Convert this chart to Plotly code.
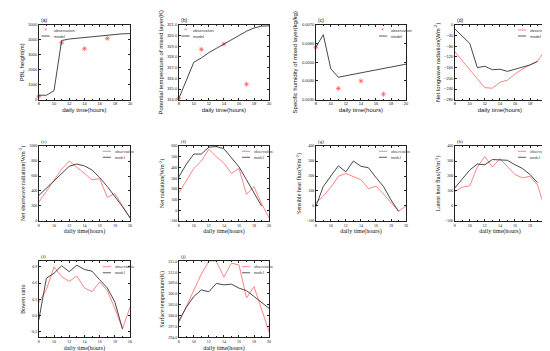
import plotly.graph_objects as go

W, H = 550, 351

hours = list(range(8, 21))
hours_to19 = list(range(8, 20))
obs_hours_sparse = [8, 11, 14, 17]

# (a) PBL height
pbl_model = [300, 300, 600, 3950, 4050, 4100, 4170, 4230, 4280, 4330, 4380, 4400, 4410]
pbl_obs = [220, 3800, 3400, 4090]
# (b) potential temperature of mixed layer
theta_model = [314.1, 315.8, 317.5, 317.9, 318.4, 318.8, 319.2, 319.6, 320.0, 320.4, 320.7, 320.88, 320.9]
theta_obs = [314.1, 318.7, 319.2, 315.45]
# (c) specific humidity of mixed layer
q_model = [0.0058, 0.00647, 0.00465, 0.0042, 0.00428, 0.00436, 0.00444, 0.0045, 0.00457, 0.00465, 0.00472, 0.0048, 0.0049]
q_obs = [0.0058, 0.0036, 0.0040, 0.0033]
# (d) net longwave radiation
lw_model = [-15, -42, -70, -160, -155, -168, -166, -174, -166, -160, -150, -137]
lw_obs = [-100, -135, -168, -202, -235, -237, -215, -207, -184, -165, -150, -136, -96]
# (e) net shortwave radiation
sw_model = [340, 440, 540, 640, 730, 760, 735, 680, 580, 460, 330, 190, 40]
sw_obs = [250, 400, 540, 690, 800, 720, 640, 550, 565, 315, 365, 200, 40]
# (f) net radiation
rn_model = [310, 430, 525, 525, 590, 595, 575, 495, 405, 285, 160, 40]
rn_obs = [160, 280, 390, 460, 570, 500, 440, 345, 390, 150, 220, 60, -70]
# (g) sensible heat flux
sh_model = [-5, 130, 200, 268, 228, 300, 265, 255, 190, 130, 40, -35]
sh_obs = [20, 65, 125, 198, 217, 195, 175, 115, 133, 80, 20, -35, 0]
# (h) latent heat flux
lh_model = [120, 180, 240, 280, 275, 310, 305, 305, 275, 250, 210, 155]
lh_obs = [95, 125, 135, 260, 330, 260, 315, 265, 210, 188, 198, 140, -22]
# (i) Bowen ratio
bowen_model = [-0.08, 0.69, 0.78, 0.92, 0.81, 0.93, 0.85, 0.82, 0.66, 0.51, 0.25, -0.25]
bowen_obs = [0.24, 0.48, 0.9, 0.72, 0.63, 0.73, 0.51, 0.44, 0.62, 0.46, 0.13, -0.24, 0.16]
# (j) surface temperature
ts_model = [298.5, 302.3, 305.3, 307.1, 306.6, 308.9, 308.5, 308.7, 307.6, 306.9, 305.3, 303.7, 302.0]
ts_obs = [298.0, 302.5, 307.0, 311.5, 315.0, 315.0, 310.7, 314.5, 314.0, 304.9, 308.0, 302.0, 295.5]

x_ticks = [8, 10, 12, 14, 16, 18, 20]

OBS_C = "#ff6464"
MOD_C = "#333333"

cols_x = [(30, 122), (171, 262), (309, 400), (449, 540)]
rows_y = [(14, 90), (137, 213), (254, 331)]

panels = [
    dict(lab="(a)", yt="PBL height(m)", x_obs=obs_hours_sparse, obs=pbl_obs, x_mod=hours, mod=pbl_model,
         rng=[0, 5000], tv=[0, 1000, 2000, 3000, 4000, 5000], fmt="d", r=0, c=0, markers=True, leg="left"),
    dict(lab="(b)", yt="Potential temperature of mixed layer(K)", x_obs=obs_hours_sparse, obs=theta_obs, x_mod=hours, mod=theta_model,
         rng=[314, 321], tv=[314, 315, 316, 317, 318, 319, 320, 321], fmt=".1f", r=0, c=1, markers=True, leg="left"),
    dict(lab="(c)", yt="Specific humidity of mixed layer(kg/kg)", x_obs=obs_hours_sparse, obs=q_obs, x_mod=hours, mod=q_model,
         rng=[0.003, 0.007], tv=[0.003, 0.004, 0.005, 0.006, 0.007], fmt=".4f", r=0, c=2, markers=True, leg="right"),
    dict(lab="(d)", yt="Net longwave radiation(Wm<sup>-2</sup>)", x_obs=hours, obs=lw_obs, x_mod=hours_to19, mod=lw_model,
         rng=[-280, 0], tv=[0, -40, -80, -120, -160, -200, -240, -280], fmt="d", r=0, c=3, markers=False, leg="right"),
    dict(lab="(e)", yt="Net shortwave radiation(Wm<sup>-2</sup>)", x_obs=hours, obs=sw_obs, x_mod=hours, mod=sw_model,
         rng=[0, 1000], tv=[0, 200, 400, 600, 800, 1000], fmt="d", r=1, c=0, markers=False, leg="right"),
    dict(lab="(f)", yt="Net radiation(Wm<sup>-2</sup>)", x_obs=hours, obs=rn_obs, x_mod=hours_to19, mod=rn_model,
         rng=[-100, 600], tv=[-100, 0, 100, 200, 300, 400, 500, 600], fmt="d", r=1, c=1, markers=False, leg="right"),
    dict(lab="(g)", yt="Sensible heat flux(Wm<sup>-2</sup>)", x_obs=hours, obs=sh_obs, x_mod=hours_to19, mod=sh_model,
         rng=[-100, 400], tv=[-100, 0, 100, 200, 300, 400], fmt="d", r=1, c=2, markers=False, leg="right"),
    dict(lab="(h)", yt="Latent heat flux(Wm<sup>-2</sup>)", x_obs=hours, obs=lh_obs, x_mod=hours_to19, mod=lh_model,
         rng=[-100, 400], tv=[-100, 0, 100, 200, 300, 400], fmt="d", r=1, c=3, markers=False, leg="right"),
    dict(lab="(i)", yt="Bowen ratio", x_obs=hours, obs=bowen_obs, x_mod=hours_to19, mod=bowen_model,
         rng=[-0.4, 1.0], tv=[-0.3, 0.0, 0.3, 0.6, 0.9], fmt=".1f", r=2, c=0, markers=False, leg="right"),
    dict(lab="(j)", yt="Surface temperature(K)", x_obs=hours, obs=ts_obs, x_mod=hours, mod=ts_model,
         rng=[294, 315], tv=[294, 297, 300, 303, 306, 309, 312, 315], fmt=".1f", r=2, c=1, markers=False, leg="right"),
]

fig = go.Figure()
shapes = []
annotations = []

for i, p in enumerate(panels):
    n = i + 1
    xa = "x" if n == 1 else f"x{n}"
    ya = "y" if n == 1 else f"y{n}"
    xk = "xaxis" if n == 1 else f"xaxis{n}"
    yk = "yaxis" if n == 1 else f"yaxis{n}"
    x0, x1 = cols_x[p["c"]]
    y0, y1 = rows_y[p["r"]]
    fam = "Liberation Sans, Arial, sans-serif" if p["r"] == 0 else "Liberation Serif, Times New Roman, serif"

    if p["markers"]:
        fig.add_trace(go.Scatter(x=p["x_obs"], y=p["obs"], mode="markers", xaxis=xa, yaxis=ya,
                                 marker=dict(symbol="asterisk-open", size=4, color=OBS_C,
                                             line=dict(color=OBS_C, width=0.8)),
                                 showlegend=False, cliponaxis=False))
    else:
        fig.add_trace(go.Scatter(x=p["x_obs"], y=p["obs"], mode="lines", xaxis=xa, yaxis=ya,
                                 line=dict(color=OBS_C, width=0.8), showlegend=False))
    fig.add_trace(go.Scatter(x=p["x_mod"], y=p["mod"], mode="lines", xaxis=xa, yaxis=ya,
                             line=dict(color=MOD_C, width=0.9), showlegend=False))

    common = dict(showline=True, linecolor="#222", linewidth=0.6, mirror="ticks", ticks="inside",
                  ticklen=2, tickwidth=0.5, tickcolor="#222", showgrid=False, zeroline=False,
                  tickfont=dict(size=4, family=fam, color="#111"))
    fig.layout[xk] = dict(domain=[x0 / W, x1 / W], anchor=ya, range=[8, 20], tickvals=x_ticks,
                          title=dict(text="daily time(hours)", font=dict(size=6, family=fam, color="#111"), standoff=2),
                          minor=dict(ticks="inside", ticklen=1, dtick=1, tickwidth=0.4, tickcolor="#222"),
                          **common)
    fig.layout[yk] = dict(domain=[1 - y1 / H, 1 - y0 / H], anchor=xa, range=p["rng"], tickvals=p["tv"],
                          tickformat=p["fmt"],
                          title=dict(text=p["yt"], font=dict(size=6, family=fam, color="#111"), standoff=3),
                          **common)

    # panel label
    annotations.append(dict(text=p["lab"], xref=f"{xa} domain", yref=f"{ya} domain", x=0.0, y=1.0,
                            xanchor="left", yanchor="bottom", showarrow=False,
                            font=dict(size=5, family=fam, color="#111")))
    # legend (drawn as decoration)
    lf = dict(size=4, family=fam, color="#333")
    if p["leg"] == "left":
        lx0, lx1, tx = 0.03, 0.12, 0.14
    else:
        lx0, lx1, tx = 0.70, 0.79, 0.81
    ly1, ly2 = 0.93, 0.85
    if p["markers"]:
        annotations.append(dict(text="*", xref=f"{xa} domain", yref=f"{ya} domain", x=(lx0 + lx1) / 2, y=ly1,
                                xanchor="center", yanchor="middle", showarrow=False,
                                font=dict(size=6, color=OBS_C)))
    else:
        shapes.append(dict(type="line", xref=f"{xa} domain", yref=f"{ya} domain", x0=lx0, x1=lx1, y0=ly1, y1=ly1,
                           line=dict(color=OBS_C, width=0.8)))
    annotations.append(dict(text="observation", xref=f"{xa} domain", yref=f"{ya} domain", x=tx, y=ly1,
                            xanchor="left", yanchor="middle", showarrow=False, font=lf))
    shapes.append(dict(type="line", xref=f"{xa} domain", yref=f"{ya} domain", x0=lx0, x1=lx1, y0=ly2, y1=ly2,
                       line=dict(color=MOD_C, width=0.8)))
    annotations.append(dict(text="model", xref=f"{xa} domain", yref=f"{ya} domain", x=tx, y=ly2,
                            xanchor="left", yanchor="middle", showarrow=False, font=lf))

fig.update_layout(width=W, height=H, margin=dict(l=0, r=0, t=0, b=0), paper_bgcolor="white",
                  plot_bgcolor="white", showlegend=False, shapes=shapes, annotations=annotations)

fig.write_html("out.html")
